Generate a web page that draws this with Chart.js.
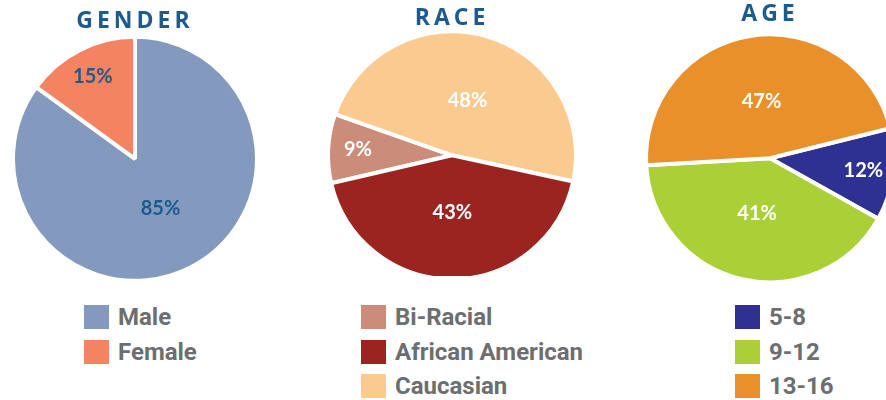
<!DOCTYPE html>
<html>
<head>
<meta charset="utf-8">
<script src="https://cdn.jsdelivr.net/npm/chart.js@4.4.1/dist/chart.umd.min.js"></script>
<style>
  html, body { margin: 0; padding: 0; background: #fff; }
  body { width: 886px; height: 400px; overflow: hidden; position: relative; }
  canvas { position: absolute; top: 0; }
  .legend { position: absolute; top: 305px; }
  .legend .row { height: 24px; margin-bottom: 10.5px; display: flex; align-items: center; }
  .legend .box { width: 25px; height: 24px; margin-right: 9px; }
  .legend .txt { font: 700 24px Roboto, sans-serif; color: #6d6e70; line-height: 24px; }
</style>
</head>
<body>
<canvas id="genderChart" width="250" height="280" style="left:10px"></canvas>
<canvas id="raceChart" width="260" height="276" style="left:322px"></canvas>
<canvas id="ageChart" width="260" height="286" style="left:640px"></canvas>
<div class="legend" id="genderLegend" style="left:84px"></div>
<div class="legend" id="raceLegend" style="left:361px"></div>
<div class="legend" id="ageLegend" style="left:735px"></div>
<script>
const genderLabels = ['Male', 'Female'];
const genderValues = [85, 15];
const raceLabels = ['Bi-Racial', 'African American', 'Caucasian'];
const raceValues = [9, 43, 48];
const ageLabels = ['5-8', '9-12', '13-16'];
const ageValues = [12, 41, 47];

const genderColors = ['#8399bd', '#f38361'];
const raceColors = ['#cb8d79', '#9b2420', '#fbca8e'];
const ageColors = ['#2e3192', '#abd037', '#e8902a'];

// percent text inside each slice, small slices pushed out toward the rim
const pctLabels = {
  id: 'pctLabels',
  afterDatasetsDraw(chart, args, opts) {
    const ctx = chart.ctx;
    const meta = chart.getDatasetMeta(0);
    const values = chart.data.datasets[0].data;
    ctx.save();
    ctx.font = '700 20px Lato, sans-serif';
    ctx.fillStyle = opts.color;
    ctx.textAlign = 'center';
    ctx.textBaseline = 'middle';
    meta.data.forEach((arc, i) => {
      const mid = (arc.startAngle + arc.endAngle) / 2;
      const r = arc.outerRadius * (values[i] < 20 ? 0.76 : 0.46);
      ctx.fillText(values[i] + '%', arc.x + Math.cos(mid) * r, arc.y + Math.sin(mid) * r);
    });
    ctx.restore();
  }
};

// spaced-out capitals for the titles
const titleSpacing = {
  id: 'titleSpacing',
  beforeDraw(chart) { chart.ctx.letterSpacing = '4px'; },
  beforeDatasetsDraw(chart) { chart.ctx.letterSpacing = '0px'; }
};

const createPie = (id, title, labels, values, colors, cfg) => {
  const order = cfg.order || labels.map((_, i) => i);
  return new Chart(document.getElementById(id), {
    type: 'pie',
    data: {
      labels: order.map(i => labels[i]),
      datasets: [{
        data: order.map(i => values[i]),
        backgroundColor: order.map(i => colors[i]),
        borderColor: '#ffffff',
        borderWidth: 4,
        radius: cfg.radius,
      }],
    },
    options: {
      responsive: false,
      animation: false,
      rotation: cfg.rotation,
      plugins: {
        legend: { display: false },
        tooltip: { enabled: false },
        title: {
          display: true,
          text: title,
          color: '#1d5a8e',
          font: { family: 'Open Sans', size: 23, weight: 'bold' },
          padding: cfg.titlePad,
        },
        pctLabels: { color: cfg.labelColor },
      },
    },
    plugins: [titleSpacing, pctLabels],
  });
};

const makeLegend = (id, labels, colors) => {
  const el = document.getElementById(id);
  labels.forEach((label, i) => {
    const row = document.createElement('div');
    row.className = 'row';
    row.innerHTML = `<span class="box" style="background:${colors[i]}"></span><span class="txt">${label}</span>`;
    el.appendChild(row);
  });
};

createPie('genderChart', 'GENDER', genderLabels, genderValues, genderColors, {
  rotation: 0, radius: 122, titlePad: { top: 8, bottom: 2 }, labelColor: '#1d5a8e',
});
createPie('raceChart', 'RACE', raceLabels, raceValues, raceColors, {
  rotation: 257, radius: 124, titlePad: { top: 5, bottom: 2 }, labelColor: '#ffffff', order: [0, 2, 1],
});
createPie('ageChart', 'AGE', ageLabels, ageValues, ageColors, {
  rotation: 76, radius: 124, titlePad: { top: 1, bottom: 2 }, labelColor: '#ffffff',
});

makeLegend('genderLegend', genderLabels, genderColors);
makeLegend('raceLegend', raceLabels, raceColors);
makeLegend('ageLegend', ageLabels, ageColors);
</script>
</body>
</html>
